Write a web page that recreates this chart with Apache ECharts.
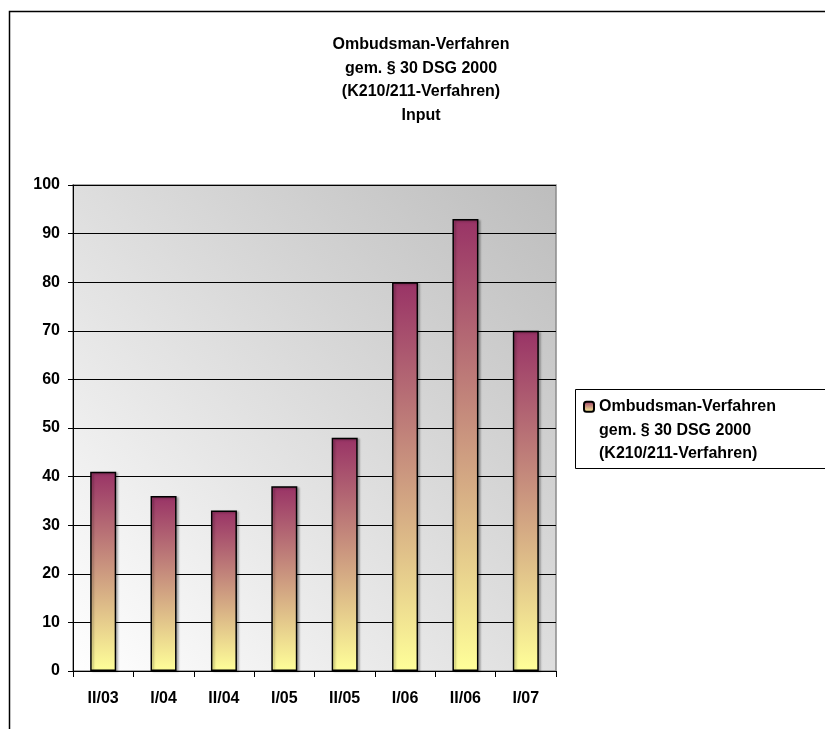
<!DOCTYPE html>
<html>
<head>
<meta charset="utf-8">
<script src="https://cdn.jsdelivr.net/npm/echarts@6/dist/echarts.min.js"></script>
<style>
  html, body { margin: 0; padding: 0; background: #fff; }
  #chart { width: 825px; height: 729px; }
</style>
</head>
<body>
<div id="chart"></div>
<script>
const periods = ['II/03', 'I/04', 'II/04', 'I/05', 'II/05', 'I/06', 'II/06', 'I/07']
const cases = [41, 36, 33, 38, 48, 80, 93, 70]
const yTicks = { min: 0, max: 100, step: 10 }
const seriesName = 'Ombudsman-Verfahren\ngem. § 30 DSG 2000\n(K210/211-Verfahren)'
const titleText = 'Ombudsman-Verfahren\ngem. § 30 DSG 2000\n(K210/211-Verfahren)\nInput'

const font = '"Liberation Sans", Arial, sans-serif'

const chart = echarts.init(document.getElementById('chart'))

const barFill = {
  type: 'linear', x: 0, y: 0, x2: 0, y2: 1,
  colorStops: [
    { offset: 0, color: '#993366' },
    { offset: 1, color: '#ffff99' }
  ]
}

const option = {
  animation: false,
  backgroundColor: '#fff',
  textStyle: { fontFamily: font },
  grid: {
    left: 73,
    top: 185,
    width: 483,
    height: 486,
    show: true,
    borderColor: '#8c8c8c',
    borderWidth: 1.5,
    backgroundColor: {
      type: 'linear', x: 0, y: 1, x2: 1, y2: 0,
      colorStops: [
        { offset: 0, color: '#ffffff' },
        { offset: 1, color: '#bdbdbd' }
      ]
    }
  },
  xAxis: {
    type: 'category',
    data: periods,
    axisLine: { lineStyle: { color: '#000', width: 1 } },
    axisTick: { show: true, length: 6, lineStyle: { color: '#000' } },
    axisLabel: {
      color: '#000', fontWeight: 'bold', fontSize: 16, fontFamily: font, margin: 20
    },
    splitLine: { show: false }
  },
  yAxis: {
    type: 'value',
    min: yTicks.min,
    max: yTicks.max,
    interval: yTicks.step,
    axisLine: { show: true, lineStyle: { color: '#000', width: 1 } },
    axisTick: { show: true, length: 5, lineStyle: { color: '#000' } },
    axisLabel: {
      color: '#000', fontWeight: 'bold', fontSize: 16, fontFamily: font, margin: 13
    },
    splitLine: { show: true, lineStyle: { color: '#000', width: 1 } }
  },
  legend: {
    left: 583,
    top: 348,
    orient: 'vertical',
    itemWidth: 10,
    itemHeight: 10,
    itemGap: 0,
    padding: 0,
    // two leading blank lines keep the icon level with the first text line
    formatter: name => '\n\n' + name,
    textStyle: {
      color: '#000', fontWeight: 'bold', fontSize: 16, fontFamily: font,
      lineHeight: 23.5
    },
    data: [seriesName]
  },
  graphic: [
    {
      type: 'rect',
      shape: { x: 9.5, y: 11.5, width: 1000, height: 1000 },
      style: { fill: 'none', stroke: '#000', lineWidth: 1.5 },
      z: -10
    },
    {
      type: 'rect',
      shape: { x: 575.5, y: 389.5, width: 300, height: 79 },
      style: { fill: '#fff', stroke: '#000', lineWidth: 1 },
      z: -5
    },
    {
      type: 'text',
      x: 421,
      y: 33,
      style: {
        text: titleText,
        align: 'center',
        textAlign: 'center',
        fill: '#000',
        font: 'bold 16px ' + font,
        lineHeight: 23.5
      }
    }
  ],
  series: [
    {
      name: seriesName,
      type: 'bar',
      data: cases,
      barWidth: 26,
      itemStyle: {
        color: barFill,
        borderColor: '#000',
        borderWidth: 1.5,
        shadowColor: 'rgba(0,0,0,0.25)',
        shadowOffsetX: 2,
        shadowOffsetY: 1,
        shadowBlur: 2
      }
    }
  ]
}

chart.setOption(option)
</script>
</body>
</html>
